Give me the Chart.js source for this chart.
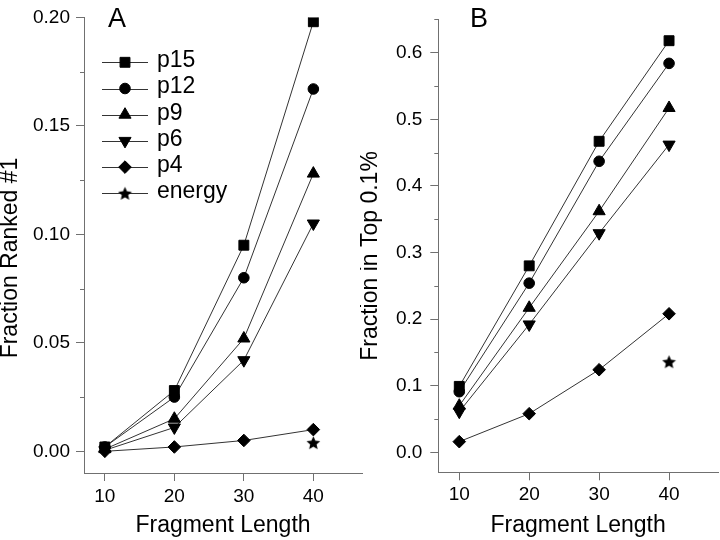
<!DOCTYPE html>
<html><head><meta charset="utf-8">
<script src="https://cdn.jsdelivr.net/npm/chart.js@4.4.1/dist/chart.umd.min.js"></script>
<style>
html,body{margin:0;padding:0;background:#fff;overflow:hidden;width:720px;height:540px;}
#wrapA{position:absolute;left:0;top:0;width:370px;height:540px;}
#wrapB{position:absolute;left:360px;top:0;width:366px;height:540px;}
canvas{display:block;}
</style></head><body>
<div id="wrapA"><canvas id="cA" width="370" height="540"></canvas></div>
<div id="wrapB"><canvas id="cB" width="366" height="540"></canvas></div>
<script>
// ---------- data ----------
const LENGTHS = [10, 20, 30, 40];
const SERIES_NAMES = ['p15', 'p12', 'p9', 'p6', 'p4', 'energy'];

const A_P15 = [0.002, 0.028, 0.095, 0.198];
const A_P12 = [0.002, 0.025, 0.080, 0.167];
const A_P9  = [0.001, 0.015, 0.052, 0.128];
const A_P6  = [0.0005, 0.011, 0.042, 0.105];
const A_P4  = [0.000, 0.002, 0.005, 0.010];
const ENERGY_LENGTHS = [40];
const A_ENERGY = [0.004];

const B_P15 = [0.099, 0.280, 0.467, 0.618];
const B_P12 = [0.091, 0.254, 0.437, 0.584];
const B_P9  = [0.070, 0.217, 0.362, 0.517];
const B_P6  = [0.061, 0.192, 0.329, 0.462];
const B_P4  = [0.016, 0.058, 0.124, 0.208];
const B_ENERGY = [0.136];

const X_TICKS = [10, 20, 30, 40];
const A_Y_TICKS = [0, 0.05, 0.10, 0.15, 0.20];
const A_Y_MINOR = [0.025, 0.075, 0.125, 0.175];
const B_Y_TICKS = [0, 0.1, 0.2, 0.3, 0.4, 0.5, 0.6];
const B_Y_MINOR = [0.05, 0.15, 0.25, 0.35, 0.45, 0.55, 0.65];

const X_LABEL = 'Fragment Length';
const A_Y_LABEL = 'Fraction Ranked #1';
const B_Y_LABEL = 'Fraction in Top 0.1%';
const A_LETTER = 'A';
const B_LETTER = 'B';

// ---------- styles ----------
const FONT = "'Liberation Sans', Arial, Helvetica, sans-serif";
const AX = '#707070';
const LINE = '#333333';

function makeStar(size) {
  const c = document.createElement('canvas');
  c.width = size; c.height = size;
  const g = c.getContext('2d');
  const cx = size / 2, cy = size / 2 + 0.7, R = size / 2 - 0.3, r = R * 0.47;
  g.beginPath();
  for (let i = 0; i < 10; i++) {
    const a = -Math.PI / 2 + i * Math.PI / 5;
    const rr = i % 2 ? r : R;
    g.lineTo(cx + rr * Math.cos(a), cy + rr * Math.sin(a));
  }
  g.closePath();
  g.fillStyle = '#000';
  g.fill();
  return c;
}
const STAR = makeStar(15);

const MARK = {
  p15: {pointStyle: 'rect', radius: 7, rotation: 0},
  p12: {pointStyle: 'circle', radius: 5.3, rotation: 0},
  p9: {pointStyle: 'triangle', radius: 7, rotation: 0},
  p6: {pointStyle: 'triangle', radius: 7, rotation: 180},
  p4: {pointStyle: 'rectRot', radius: 6.3, rotation: 0},
  energy: {pointStyle: STAR, radius: 7, rotation: 0}
};

function ds(label, xs, ys) {
  const m = MARK[label];
  return {
    label,
    data: xs.map((x, i) => ({x, y: ys[i]})),
    borderColor: LINE, borderWidth: 1,
    pointStyle: m.pointStyle, pointRadius: m.radius, pointRotation: m.rotation,
    pointBackgroundColor: '#000', pointBorderColor: '#000', pointBorderWidth: 1,
    showLine: label !== 'energy', fill: false, tension: 0
  };
}

// ---------- plugins ----------
const minorTicksPlugin = {
  id: 'minorTicks',
  afterDraw(chart, args, opts) {
    const s = chart.scales.y, ctx = chart.ctx;
    ctx.save();
    ctx.strokeStyle = AX; ctx.lineWidth = 1;
    (opts.values || []).forEach(v => {
      const py = Math.round(s.getPixelForValue(v)) + 0.5;
      ctx.beginPath();
      ctx.moveTo(s.right - opts.len, py);
      ctx.lineTo(s.right, py);
      ctx.stroke();
    });
    ctx.restore();
  }
};

const panelLabelPlugin = {
  id: 'panelLabel',
  afterDraw(chart, args, opts) {
    const ctx = chart.ctx;
    ctx.save();
    ctx.fillStyle = '#000';
    ctx.font = '27px ' + FONT;
    ctx.textAlign = 'left';
    ctx.textBaseline = 'alphabetic';
    ctx.fillText(opts.text, opts.x, opts.y);
    ctx.restore();
  }
};

const yTitlePlugin = {
  id: 'yTitle',
  afterDraw(chart, args, opts) {
    const ctx = chart.ctx;
    ctx.save();
    ctx.translate(opts.x, opts.y);
    ctx.rotate(-Math.PI / 2);
    ctx.fillStyle = '#000';
    ctx.font = '23px ' + FONT;
    ctx.textAlign = 'center';
    ctx.textBaseline = 'middle';
    ctx.fillText(opts.text, 0, 0);
    ctx.restore();
  }
};

function drawMarker(ctx, m, x, y) {
  if (window.Chart && Chart.helpers && Chart.helpers.drawPoint) {
    Chart.helpers.drawPoint(ctx, {pointStyle: m.pointStyle, radius: m.radius, rotation: m.rotation, borderWidth: 1}, x, y);
    return;
  }
  if (typeof m.pointStyle !== 'string') {
    ctx.drawImage(m.pointStyle, x - m.pointStyle.width / 2, y - m.pointStyle.height / 2);
    return;
  }
  ctx.beginPath();
  ctx.arc(x, y, m.radius, 0, Math.PI * 2);
  ctx.fill(); ctx.stroke();
}

const keyPlugin = {
  id: 'seriesKey',
  afterDraw(chart, args, opts) {
    if (!opts.show) return;
    const ctx = chart.ctx;
    ctx.save();
    chart.data.datasets.forEach((d, i) => {
      const y = opts.y0 + i * opts.step;
      ctx.strokeStyle = LINE; ctx.lineWidth = 1;
      ctx.beginPath();
      ctx.moveTo(opts.x1, Math.round(y) + 0.5);
      ctx.lineTo(opts.x2, Math.round(y) + 0.5);
      ctx.stroke();
      ctx.fillStyle = '#000'; ctx.strokeStyle = '#000';
      drawMarker(ctx, MARK[d.label], (opts.x1 + opts.x2) / 2, y);
      ctx.fillStyle = '#000';
      ctx.font = '23px ' + FONT;
      ctx.textAlign = 'left';
      ctx.textBaseline = 'middle';
      ctx.fillText(d.label, opts.tx, y - 1.5);
    });
    ctx.restore();
  }
};

// ---------- chart builder ----------
function makeChart(id, datasets, cfg) {
  return new Chart(document.getElementById(id), {
    type: 'line',
    data: {datasets},
    options: {
      responsive: false, animation: false, events: [],
      layout: {padding: {top: cfg.padTop, right: cfg.padRight, left: 0, bottom: 0}},
      plugins: {
        legend: {display: false}, tooltip: {enabled: false},
        minorTicks: {values: cfg.minor, len: 4},
        panelLabel: {text: cfg.letter, x: cfg.letterX, y: 27},
        yTitle: {text: cfg.yLabel, x: cfg.yTitleX, y: cfg.yTitleY},
        seriesKey: {show: cfg.key, x1: 102, x2: 148, tx: 157, y0: 62.3, step: 26.2}
      },
      scales: {
        x: {
          type: 'linear', min: 7, max: 47,
          afterBuildTicks: s => { s.ticks = X_TICKS.map(v => ({value: v})); },
          afterFit: s => { s.height = cfg.xHeight; },
          grid: {drawOnChartArea: false, drawTicks: true, tickLength: 8, color: AX, lineWidth: 1},
          border: {display: true, color: AX, width: 1},
          ticks: {color: '#000', font: {size: 19, family: FONT}, padding: cfg.xPad, maxRotation: 0, autoSkip: false, callback: v => String(v)},
          title: {display: true, text: X_LABEL, color: '#000', font: {size: 23, family: FONT, lineHeight: 1}, padding: {top: 0, bottom: 3.3}}
        },
        y: {
          type: 'linear', min: cfg.yMin, max: cfg.yMax,
          afterBuildTicks: s => { s.ticks = cfg.yTicks.map(v => ({value: v})); },
          afterFit: s => { s.width = cfg.yWidth; },
          grid: {drawOnChartArea: false, drawTicks: true, tickLength: 8, color: AX, lineWidth: 1},
          border: {display: true, color: AX, width: 1},
          ticks: {color: '#000', font: {size: 19, family: FONT}, padding: cfg.yPad, autoSkip: false, callback: v => Number(v).toFixed(cfg.dec)},
          title: {display: false}
        }
      }
    },
    plugins: [minorTicksPlugin, panelLabelPlugin, yTitlePlugin, keyPlugin]
  });
}

const datasetsA = [
  ds('p15', LENGTHS, A_P15), ds('p12', LENGTHS, A_P12), ds('p9', LENGTHS, A_P9),
  ds('p6', LENGTHS, A_P6), ds('p4', LENGTHS, A_P4), ds('energy', ENERGY_LENGTHS, A_ENERGY)
];
const datasetsB = [
  ds('p15', LENGTHS, B_P15), ds('p12', LENGTHS, B_P12), ds('p9', LENGTHS, B_P9),
  ds('p6', LENGTHS, B_P6), ds('p4', LENGTHS, B_P4), ds('energy', ENERGY_LENGTHS, B_ENERGY)
];

makeChart('cA', datasetsA, {
  padTop: 9.5, padRight: 5, xHeight: 67, yWidth: 84, xPad: 4, yPad: 6,
  yMin: -0.01, yMax: 0.20, yTicks: A_Y_TICKS, minor: A_Y_MINOR, dec: 2,
  yLabel: A_Y_LABEL, yTitleX: 10.5, yTitleY: 258, letter: A_LETTER, letterX: 108, key: true
});
makeChart('cB', datasetsB, {
  padTop: 8.3, padRight: 0, xHeight: 67.7, yWidth: 78.3, xPad: 3, yPad: 8,
  yMin: -0.03, yMax: 0.65, yTicks: B_Y_TICKS, minor: B_Y_MINOR, dec: 1,
  yLabel: B_Y_LABEL, yTitleX: 10.5, yTitleY: 256, letter: B_LETTER, letterX: 110, key: false
});
</script>
</body></html>
